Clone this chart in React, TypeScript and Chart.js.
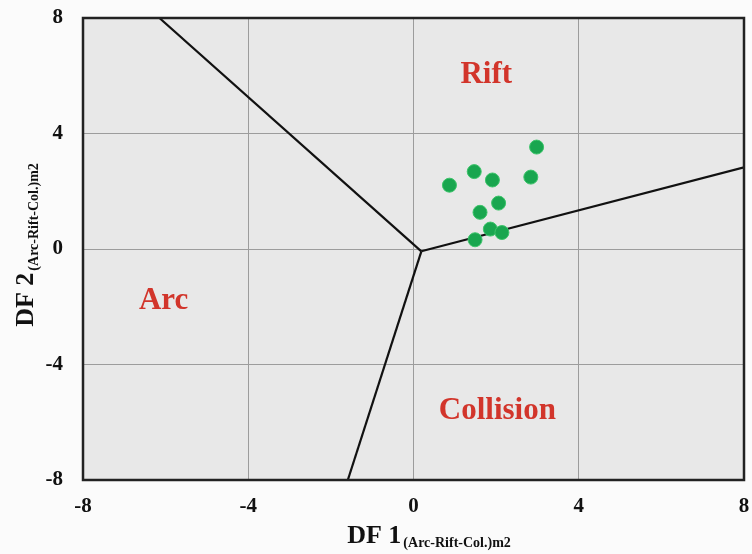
import React, { useEffect, useRef } from "react";
import { Chart, registerables } from "chart.js";

Chart.register(...registerables);

// Sample scores
const df1Values = [2.98, 1.47, 0.87, 1.91, 2.84, 2.06, 1.61, 1.86, 2.14, 1.49];
const df2Values = [3.53, 2.68, 2.21, 2.39, 2.49, 1.59, 1.27, 0.69, 0.57, 0.32];

// Field boundaries (DF1, DF2)
const triplePoint = [0.19, -0.08];
const arcRiftEnd = [-6.15, 8];
const riftCollisionEnd = [8, 2.83];
const arcCollisionEnd = [-1.59, -8];

// Field names and where they sit (data coordinates)
const fieldNames = ["Rift", "Arc", "Collision"];
const fieldX = [1.76, -6.05, 2.03];
const fieldY = [6.03, -1.8, -5.6];

// Axes
const axisMin = -8;
const axisMax = 8;
const tickStep = 4;
const xTitleMain = "DF 1";
const xTitleSub = "(Arc-Rift-Col.)m2";
const yTitleMain = "DF 2";
const yTitleSub = "(Arc-Rift-Col.)m2";

const SERIF = '"Liberation Serif", "Times New Roman", serif';

function seg(a: number[], b: number[]) {
  return [
    { x: a[0], y: a[1] },
    { x: b[0], y: b[1] },
  ];
}

export default function App() {
  const ref = useRef<HTMLCanvasElement | null>(null);

  useEffect(() => {
    document.body.style.margin = "0";
    const canvas = ref.current!;
    const decor = {
      id: "decor",
      beforeDraw(chart: any) {
        const { ctx, chartArea: a } = chart;
        ctx.save();
        ctx.fillStyle = "#fbfbfb";
        ctx.fillRect(0, 0, chart.width, chart.height);
        ctx.fillStyle = "#e8e8e8";
        ctx.fillRect(a.left, a.top, a.right - a.left, a.bottom - a.top);
        ctx.restore();
      },
      afterDatasetsDraw(chart: any) {
        const { ctx, chartArea: a, scales } = chart;
        ctx.save();
        // frame
        ctx.strokeStyle = "#222";
        ctx.lineWidth = 2.5;
        ctx.strokeRect(a.left, a.top, a.right - a.left, a.bottom - a.top);
        // field names
        ctx.fillStyle = "#d2352b";
        ctx.font = `bold 31px ${SERIF}`;
        ctx.textAlign = "center";
        ctx.textBaseline = "middle";
        fieldNames.forEach((n, i) => {
          ctx.fillText(n, scales.x.getPixelForValue(fieldX[i]), scales.y.getPixelForValue(fieldY[i]));
        });
        // x title
        ctx.fillStyle = "#111";
        ctx.textAlign = "left";
        ctx.textBaseline = "alphabetic";
        const mainFont = `bold 26px ${SERIF}`;
        const subFont = `bold 14px ${SERIF}`;
        ctx.font = mainFont;
        const wm = ctx.measureText(xTitleMain).width;
        ctx.font = subFont;
        const ws = ctx.measureText(xTitleSub).width;
        const cx = 429;
        const x0 = cx - (wm + ws + 2) / 2;
        ctx.font = mainFont;
        ctx.fillText(xTitleMain, x0, 543);
        ctx.font = subFont;
        ctx.fillText(xTitleSub, x0 + wm + 2, 547);
        // y title
        ctx.save();
        ctx.translate(33, 245);
        ctx.rotate(-Math.PI / 2);
        ctx.font = mainFont;
        const ym = ctx.measureText(yTitleMain).width;
        ctx.font = subFont;
        const ys = ctx.measureText(yTitleSub).width;
        const y0 = -(ym + ys + 2) / 2;
        ctx.font = mainFont;
        ctx.fillText(yTitleMain, y0, 0);
        ctx.font = subFont;
        ctx.fillText(yTitleSub, y0 + ym + 2, 5);
        ctx.restore();
        ctx.restore();
      },
    };

    const lineStyle = {
      showLine: true,
      borderColor: "#111",
      borderWidth: 2.2,
      pointRadius: 0,
      pointHoverRadius: 0,
      fill: false,
    };

    const tickFont = { family: SERIF, size: 21, weight: "bold" };

    const chart = new Chart(canvas, {
      type: "scatter",
      data: {
        datasets: [
          {
            label: "samples",
            data: df1Values.map((x, i) => ({ x, y: df2Values[i] })),
            backgroundColor: "#19a64f",
            borderColor: "#3cc46a",
            borderWidth: 1,
            pointRadius: 7,
          },
          { label: "Arc-Rift", data: seg(arcRiftEnd, triplePoint), ...lineStyle },
          { label: "Rift-Collision", data: seg(triplePoint, riftCollisionEnd), ...lineStyle },
          { label: "Arc-Collision", data: seg(triplePoint, arcCollisionEnd), ...lineStyle },
        ] as any,
      },
      plugins: [decor],
      options: {
        animation: false,
        responsive: false,
        devicePixelRatio: 1,
        layout: { padding: { top: 18, right: 6, left: 0, bottom: 0 } },
        plugins: { legend: { display: false }, tooltip: { enabled: false } },
        scales: {
          x: {
            type: "linear",
            min: axisMin,
            max: axisMax,
            ticks: {
              stepSize: tickStep,
              padding: 14,
              color: "#111",
              font: tickFont,
            },
            grid: { color: "#9c9c9c", lineWidth: 1, drawTicks: false },
            border: { color: "#111", width: 2 },
            afterFit(s: any) {
              s.height = 74;
              s.paddingLeft = 0;
              s.paddingRight = 0;
            },
          },
          y: {
            type: "linear",
            min: axisMin,
            max: axisMax,
            ticks: {
              stepSize: tickStep,
              padding: 20,
              color: "#111",
              font: tickFont,
            },
            grid: { color: "#9c9c9c", lineWidth: 1, drawTicks: false },
            border: { color: "#111", width: 2 },
            afterFit(s: any) {
              s.width = 83;
              s.paddingTop = 0;
              s.paddingBottom = 0;
            },
          },
        },
      } as any,
    });
    return () => chart.destroy();
  }, []);

  return (
    <div style={{ position: "fixed", left: 0, top: 0, width: 752, height: 554 }}>
      <canvas ref={ref} width={752} height={554} />
    </div>
  );
}
